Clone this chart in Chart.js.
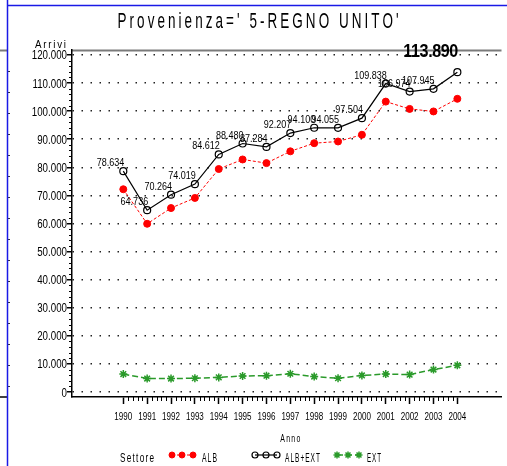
<!DOCTYPE html>
<html lang="it">
<head>
<meta charset="UTF-8">
<title>Provenienza REGNO UNITO</title>
<script src="https://cdn.jsdelivr.net/npm/chart.js"></script>
<style>
  html, body { margin: 0; padding: 0; background: #fff; }
  #wrap { position: relative; width: 507px; height: 466px; }
</style>
<script>
// valori
const anni = [1990, 1991, 1992, 1993, 1994, 1995, 1996, 1997, 1998, 1999, 2000, 2001, 2002, 2003, 2004];
const albExt = [78634, 64736, 70264, 74019, 84612, 88480, 87284, 92207, 94100, 94055, 97504, 109838, 106974, 107945, 113890];
const alb = [72200, 59900, 65500, 69100, 79400, 82800, 81500, 85700, 88600, 89200, 91600, 103400, 100800, 99900, 104400];
const ext = [6400, 4800, 4800, 4900, 5200, 5700, 5800, 6500, 5500, 4900, 5900, 6400, 6200, 8000, 9500];
const yTicks = [0, 10000, 20000, 30000, 40000, 50000, 60000, 70000, 80000, 90000, 100000, 110000, 120000];
const serie = ['ALB', 'ALB+EXT', 'EXT'];
const titolo = "Provenienza=' 5-REGNO UNITO'";

const FONT = '"Liberation Sans", Arial, sans-serif';

function fmt(v) {
    return String(Math.round(v)).replace(/\B(?=(\d{3})+(?!\d))/g, '.');
}

// testo compresso orizzontalmente (sx) con spaziatura
function drawText(ctx, text, x, y, size, sx, align, opts) {
    opts = opts || {};
    const spacing = opts.spacing || 0;
    ctx.save();
    ctx.font = (opts.bold ? 'bold ' : '') + size + 'px ' + FONT;
    ctx.letterSpacing = spacing + 'px';
    ctx.textAlign = 'left';
    ctx.textBaseline = 'alphabetic';
    let w = ctx.measureText(text).width - spacing;
    if (opts.width) sx = opts.width / w;
    w *= sx;
    let left = x;
    if (align === 'center') left = x - w / 2;
    if (align === 'right') left = x - w;
    ctx.translate(left, y);
    ctx.scale(sx, 1);
    ctx.fillStyle = '#000';
    ctx.fillText(text, 0, 0);
    ctx.restore();
}

const decorPlugin = {
    id: 'decor',
    beforeDraw(chart) {
        const ctx = chart.ctx;
        const a = chart.chartArea;
        ctx.save();
        // cornice in alto
        ctx.strokeStyle = '#7a7a7a';
        ctx.lineWidth = 2;
        ctx.beginPath();
        ctx.moveTo(a.left, a.top + 0.5);
        ctx.lineTo(a.right, a.top + 0.5);
        ctx.moveTo(0, a.top + 0.5);
        ctx.lineTo(7, a.top + 0.5);
        ctx.stroke();
        ctx.strokeStyle = '#000';
        ctx.lineWidth = 1.5;
        ctx.beginPath();
        ctx.moveTo(0, a.bottom);
        ctx.lineTo(7, a.bottom);
        ctx.stroke();
        // righello a sinistra
        ctx.strokeStyle = '#333';
        ctx.lineWidth = 1;
        ctx.beginPath();
        for (let y = a.top + 21; y < a.bottom - 5; y += 21) {
            ctx.moveTo(8, y + 0.5);
            ctx.lineTo(10, y + 0.5);
        }
        ctx.stroke();
        // linee blu
        ctx.strokeStyle = '#1a1ae6';
        ctx.lineWidth = 1.5;
        ctx.beginPath();
        ctx.moveTo(7.5, 0);
        ctx.lineTo(7.5, chart.height);
        ctx.moveTo(7, 5.5);
        ctx.lineTo(chart.width, 5.5);
        ctx.stroke();
        ctx.restore();
    },
    afterDraw(chart) {
        const ctx = chart.ctx;
        const a = chart.chartArea;
        const xs = chart.scales.x;
        const ys = chart.scales.y;

        // tacche secondarie
        ctx.save();
        ctx.strokeStyle = '#000';
        ctx.lineWidth = 1;
        ctx.beginPath();
        for (let i = 0; i < anni.length - 1; i++) {
            for (let k = 1; k < 5; k++) {
                const px = Math.round(xs.getPixelForValue(anni[i] + k / 5)) + 0.5;
                ctx.moveTo(px, a.bottom);
                ctx.lineTo(px, a.bottom + 4);
            }
        }
        for (let i = 0; i < yTicks.length - 1; i++) {
            const step = (yTicks[i + 1] - yTicks[i]) / 5;
            for (let k = 1; k < 5; k++) {
                const py = Math.round(ys.getPixelForValue(yTicks[i] + k * step)) + 0.5;
                ctx.moveTo(a.left - 3, py);
                ctx.lineTo(a.left, py);
            }
        }
        ctx.stroke();
        ctx.restore();

        // etichette degli assi (strette)
        xs.ticks.forEach(t => {
            drawText(ctx, String(t.value), xs.getPixelForValue(t.value), 419.5, 11.5, 0.7, 'center');
        });
        ys.ticks.forEach(t => {
            drawText(ctx, fmt(t.value), a.left - 5, ys.getPixelForValue(t.value) + 4.5, 12.5, 0.78, 'right');
        });

        // etichette dei valori ALB+EXT
        const meta = chart.getDatasetMeta(1);
        const last = albExt.length - 1;
        meta.data.forEach((pt, i) => {
            if (i === last) return;
            drawText(ctx, fmt(albExt[i]), pt.x + 1, pt.y - 5, 11, 0.82, 'right');
        });
        const pl = meta.data[last];
        drawText(ctx, fmt(albExt[last]), pl.x + 1, pl.y - 15, 19, 1, 'right', { bold: true, width: 55, spacing: -0.5 });

        // titolo e assi
        drawText(ctx, titolo, 258, 28, 22, 1, 'center', { spacing: 5, width: 281 });
        drawText(ctx, 'Arrivi', 66, 48, 11, 1, 'right', { spacing: 2, width: 31 });
        drawText(ctx, 'Anno', xs.getPixelForValue(1997), 442, 11, 1, 'center', { spacing: 2, width: 20 });

        // legenda
        drawText(ctx, 'Settore', 120, 462, 13, 1, 'left', { spacing: 2, width: 34 });
        const leg = [
            { mx: [172, 182, 193], tx: 202, tw: 15 },
            { mx: [255, 266, 277], tx: 285, tw: 35 },
            { mx: [337, 348, 359], tx: 367, tw: 14 }
        ];
        const ly = 455;
        leg.forEach((l, d) => {
            const ds = chart.data.datasets[d];
            ctx.save();
            ctx.strokeStyle = ds.borderColor;
            ctx.lineWidth = ds.borderWidth;
            ctx.setLineDash(ds.borderDash || []);
            ctx.beginPath();
            ctx.moveTo(l.mx[0], ly);
            ctx.lineTo(l.mx[2], ly);
            ctx.stroke();
            ctx.setLineDash([]);
            l.mx.forEach(mx => {
                ctx.fillStyle = ds.pointBackgroundColor;
                ctx.strokeStyle = ds.pointBorderColor;
                ctx.lineWidth = ds.pointBorderWidth;
                Chart.helpers.drawPoint(ctx, {
                    pointStyle: ds.pointStyle,
                    radius: ds.pointRadius - 0.5,
                    rotation: 0,
                    borderWidth: ds.pointBorderWidth
                }, mx, ly);
            });
            ctx.restore();
            drawText(ctx, ds.label, l.tx, 462, 13, 1, 'left', { spacing: 2, width: l.tw });
        });
    }
};

window.onload = function() {
    const ctx = document.getElementById('grafico').getContext('2d');
    const toPts = arr => anni.map((a, i) => ({ x: a, y: arr[i] }));
    new Chart(ctx, {
        type: 'line',
        data: {
            datasets: [
                {
                    label: serie[0],
                    data: toPts(alb),
                    borderColor: '#ff0000',
                    borderWidth: 1,
                    borderDash: [3, 2],
                    pointStyle: 'circle',
                    pointRadius: 3.5,
                    pointBackgroundColor: '#ff0000',
                    pointBorderColor: '#ff0000',
                    pointBorderWidth: 1,
                    tension: 0
                },
                {
                    label: serie[1],
                    data: toPts(albExt),
                    borderColor: '#000000',
                    borderWidth: 1.2,
                    pointStyle: 'circle',
                    pointRadius: 3.5,
                    pointBackgroundColor: 'rgba(0,0,0,0)',
                    pointBorderColor: '#000000',
                    pointBorderWidth: 1.2,
                    tension: 0
                },
                {
                    label: serie[2],
                    data: toPts(ext),
                    borderColor: '#2a9a2a',
                    borderWidth: 1.5,
                    borderDash: [6, 3],
                    pointStyle: 'star',
                    pointRadius: 4,
                    pointBackgroundColor: '#2a9a2a',
                    pointBorderColor: '#2a9a2a',
                    pointBorderWidth: 1.5,
                    tension: 0
                }
            ]
        },
        options: {
            responsive: false,
            animation: false,
            layout: { padding: { top: 50, right: 0, bottom: 0, left: 0 } },
            plugins: {
                legend: { display: false },
                title: { display: false },
                tooltip: { enabled: false }
            },
            scales: {
                x: {
                    type: 'linear',
                    min: 1987.85,
                    max: 2005.85,
                    afterBuildTicks: s => { s.ticks = anni.map(v => ({ value: v })); },
                    afterFit: s => { s.height = 69; },
                    ticks: { display: false, autoSkip: false, maxRotation: 0 },
                    grid: {
                        drawOnChartArea: false,
                        drawTicks: true,
                        tickLength: 7,
                        tickColor: '#000',
                        tickWidth: 1.5
                    },
                    border: { display: true, color: '#000', width: 1.5 }
                },
                y: {
                    type: 'linear',
                    min: -1780,
                    max: 121780,
                    afterBuildTicks: s => { s.ticks = yTicks.map(v => ({ value: v })); },
                    afterFit: s => { s.width = 72; },
                    ticks: { display: false },
                    grid: {
                        color: '#222',
                        lineWidth: 1.5,
                        drawTicks: true,
                        tickLength: 5,
                        tickColor: '#000',
                        tickWidth: 1.5,
                        tickBorderDash: []
                    },
                    border: { display: true, color: '#000', width: 1.5, dash: [1.5, 7.5] }
                }
            }
        },
        plugins: [decorPlugin]
    });
};
</script>
</head>
<body>
<div id="wrap">
    <canvas id="grafico" width="507" height="466"></canvas>
</div>
</body>
</html>
